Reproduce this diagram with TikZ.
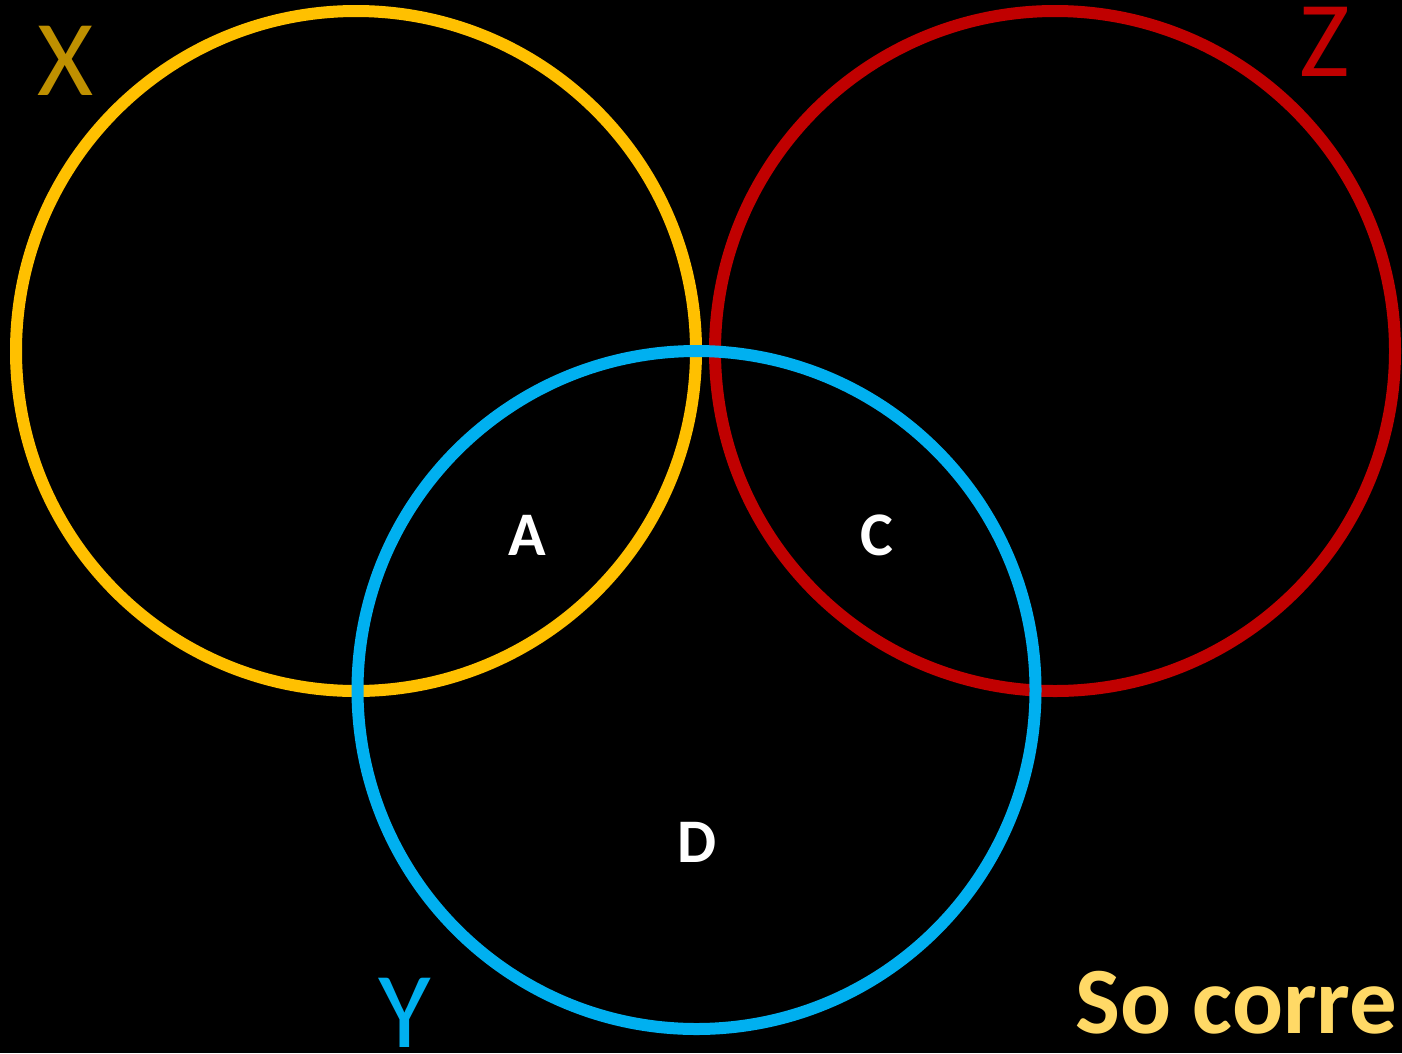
\documentclass[tikz,border=0pt]{standalone}
\usepackage{fontspec}
\setmainfont{Carlito}
\definecolor{cx}{HTML}{FFC000}
\definecolor{cxl}{HTML}{BF9000}
\definecolor{cz}{HTML}{C00000}
\definecolor{cy}{HTML}{00B0F0}
\definecolor{cso}{HTML}{FFD966}
\tikzset{
  ring/.style={line width=12pt},
  setlabel/.style={font=\fontsize{108}{110}\selectfont, inner sep=0pt},
  region/.style={text=white, font=\bfseries\fontsize{62}{64}\selectfont, inner sep=0pt}
}
\begin{document}
\begin{tikzpicture}[x=1pt,y=-1pt]
\fill[black] (0,0) rectangle (1402,1053);
\useasboundingbox (0,0) rectangle (1402,1053);
\begin{scope}
\clip (0,0) rectangle (1402,1053);
\draw[ring, draw=cx] (356,351) circle[radius=340];
\draw[ring, draw=cz] (1055,351) circle[radius=340];
\draw[ring, draw=cy] (696.5,690) circle[radius=339];
\node[setlabel, text=cxl] (lx) at (66,61) {X};
\node[setlabel, text=cz] (lz) at (1325,42) {Z};
\node[setlabel, text=cy] (ly) at (405,1013) {Y};
\node[region] (a) at (527,535) {A};
\node[region] (c) at (877,535) {C};
\node[region] (d) at (697,842) {D};
\node[anchor=base west, inner sep=0pt, text=cso, font=\bfseries\fontsize{95}{97}\selectfont] (so) at (1075,1033) {So corre};
\end{scope}
\end{tikzpicture}
\end{document}
